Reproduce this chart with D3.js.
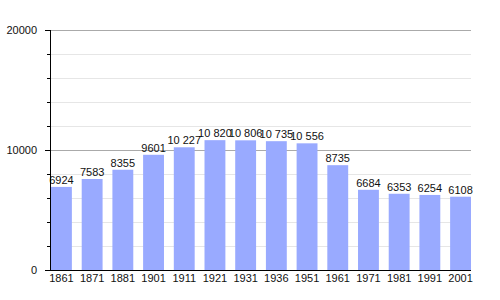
<!DOCTYPE html>
<html>
<head>
<meta charset="utf-8">
<script src="https://cdn.jsdelivr.net/npm/d3@7"></script>
<style>
  body { margin: 0; background: #fff; }
  text { font-family: "Liberation Sans", Arial, sans-serif; }
</style>
</head>
<body>
<div id="chart"></div>
<script>
const years = ["1861", "1871", "1881", "1901", "1911", "1921", "1931", "1936", "1951", "1961", "1971", "1981", "1991", "2001"];
const population = [6924, 7583, 8355, 9601, 10227, 10820, 10806, 10735, 10556, 8735, 6684, 6353, 6254, 6108];
const majorTicks = [0, 10000, 20000];
const minorTicks = [2000, 4000, 6000, 8000, 12000, 14000, 16000, 18000];

const width = 500, height = 300;
const plotLeft = 50, plotRight = 471, plotTop = 30, plotBottom = 270;

const svg = d3.select("#chart").append("svg")
  .attr("width", width)
  .attr("height", height);

const x = d3.scaleBand().domain(years).range([plotLeft + 1, plotRight]).paddingInner(0.32).paddingOuter(0);
const y = d3.scaleLinear().domain([0, 20000]).range([plotBottom, plotTop]);

// gridlines
svg.append("g").selectAll("line")
  .data(minorTicks)
  .join("line")
  .attr("x1", plotLeft).attr("x2", plotRight)
  .attr("y1", d => y(d) + 0.5).attr("y2", d => y(d) + 0.5)
  .attr("stroke", "#e6e6e6");

svg.append("g").selectAll("line")
  .data(majorTicks.filter(d => d > 0))
  .join("line")
  .attr("x1", plotLeft).attr("x2", plotRight)
  .attr("y1", d => y(d) + 0.5).attr("y2", d => y(d) + 0.5)
  .attr("stroke", "#aaaaaa");

// bars
svg.append("g").selectAll("rect")
  .data(population)
  .join("rect")
  .attr("x", (d, i) => x(years[i]))
  .attr("y", d => y(d))
  .attr("width", x.bandwidth())
  .attr("height", d => plotBottom - y(d))
  .attr("fill", "#99aaff");

// value labels
const fmt = v => v >= 10000 ? d3.format(",")(v).replace(",", " ") : String(v);
svg.append("g").selectAll("text")
  .data(population)
  .join("text")
  .attr("x", (d, i) => x(years[i]) + x.bandwidth() / 2)
  .attr("y", d => y(d) - 3)
  .attr("text-anchor", "middle")
  .attr("font-size", "11px")
  .attr("fill", "#111")
  .text(fmt);

// y axis
svg.append("line")
  .attr("x1", plotLeft + 0.5).attr("x2", plotLeft + 0.5)
  .attr("y1", plotTop).attr("y2", plotBottom)
  .attr("stroke", "#000");

svg.append("g").selectAll("line")
  .data(minorTicks)
  .join("line")
  .attr("x1", plotLeft - 3).attr("x2", plotLeft)
  .attr("y1", d => y(d) + 0.5).attr("y2", d => y(d) + 0.5)
  .attr("stroke", "#000");

svg.append("g").selectAll("line")
  .data(majorTicks)
  .join("line")
  .attr("x1", plotLeft - 5).attr("x2", plotLeft)
  .attr("y1", d => y(d) + 0.5).attr("y2", d => y(d) + 0.5)
  .attr("stroke", "#000");

svg.append("g").selectAll("text")
  .data(majorTicks)
  .join("text")
  .attr("x", plotLeft - 13)
  .attr("y", d => y(d) + 4)
  .attr("text-anchor", "end")
  .attr("font-size", "11px")
  .attr("fill", "#111")
  .text(d => d);

// x axis
svg.append("line")
  .attr("x1", plotLeft).attr("x2", plotRight)
  .attr("y1", plotBottom + 0.5).attr("y2", plotBottom + 0.5)
  .attr("stroke", "#000");

svg.append("g").selectAll("text")
  .data(years)
  .join("text")
  .attr("x", d => x(d) + x.bandwidth() / 2)
  .attr("y", plotBottom + 12)
  .attr("text-anchor", "middle")
  .attr("font-size", "11px")
  .attr("fill", "#111")
  .text(d => d);
</script>
</body>
</html>
